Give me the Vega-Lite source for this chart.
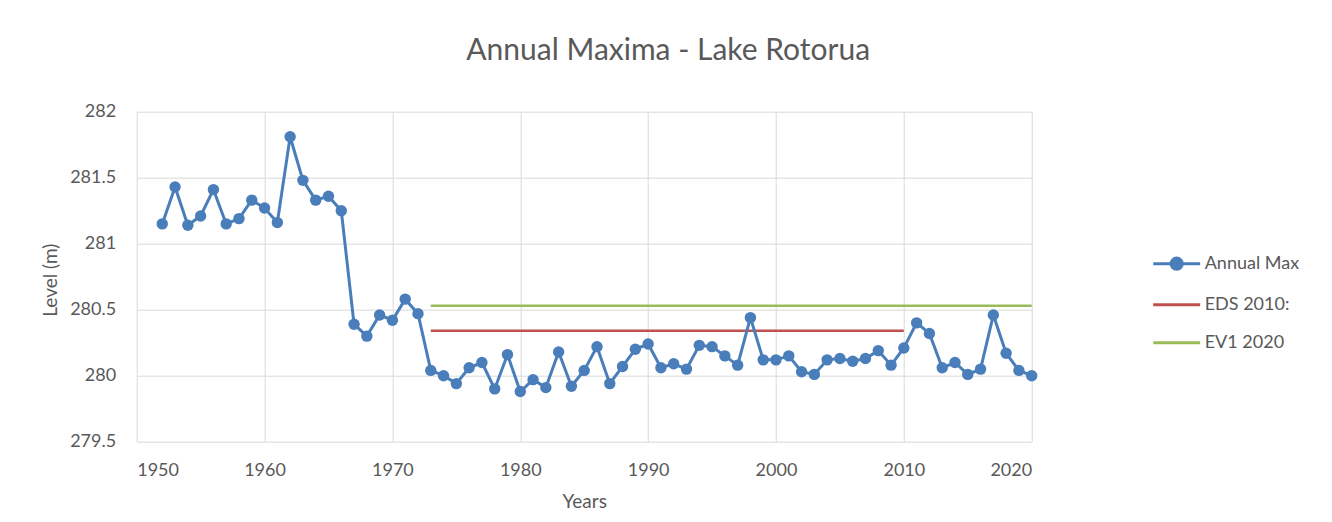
{
  "$schema": "https://vega.github.io/schema/vega-lite/v6.json",
  "width": 895,
  "height": 330,
  "autosize": {"type": "none"},
  "padding": {"left": 136.7, "top": 111.7, "right": 300.3, "bottom": 80.3},
  "background": "white",
  "config": {
    "font": "Lato",
    "view": {"stroke": null},
    "axis": {
      "gridColor": "#d9d9d9",
      "gridWidth": 1,
      "domain": false,
      "ticks": false,
      "labelColor": "#595959",
      "labelFontSize": 18,
      "labelFont": "Lato",
      "titleColor": "#595959",
      "titleFontSize": 19,
      "titleFont": "Lato",
      "titleFontWeight": "normal"
    }
  },
  "title": {
    "text": "Annual Maxima - Lake Rotorua",
    "fontSize": 30,
    "fontWeight": "normal",
    "font": "Lato",
    "color": "#595959",
    "anchor": "middle",
    "baseline": "alphabetic",
    "dx": 84,
    "offset": 13
  },
  "data": {
    "values": [
      {"year": 1952, "level": 281.15, "series": "Annual Max"},
      {"year": 1953, "level": 281.43, "series": "Annual Max"},
      {"year": 1954, "level": 281.14, "series": "Annual Max"},
      {"year": 1955, "level": 281.21, "series": "Annual Max"},
      {"year": 1956, "level": 281.41, "series": "Annual Max"},
      {"year": 1957, "level": 281.15, "series": "Annual Max"},
      {"year": 1958, "level": 281.19, "series": "Annual Max"},
      {"year": 1959, "level": 281.33, "series": "Annual Max"},
      {"year": 1960, "level": 281.27, "series": "Annual Max"},
      {"year": 1961, "level": 281.16, "series": "Annual Max"},
      {"year": 1962, "level": 281.81, "series": "Annual Max"},
      {"year": 1963, "level": 281.48, "series": "Annual Max"},
      {"year": 1964, "level": 281.33, "series": "Annual Max"},
      {"year": 1965, "level": 281.36, "series": "Annual Max"},
      {"year": 1966, "level": 281.25, "series": "Annual Max"},
      {"year": 1967, "level": 280.39, "series": "Annual Max"},
      {"year": 1968, "level": 280.30, "series": "Annual Max"},
      {"year": 1969, "level": 280.46, "series": "Annual Max"},
      {"year": 1970, "level": 280.42, "series": "Annual Max"},
      {"year": 1971, "level": 280.58, "series": "Annual Max"},
      {"year": 1972, "level": 280.47, "series": "Annual Max"},
      {"year": 1973, "level": 280.04, "series": "Annual Max"},
      {"year": 1974, "level": 280.00, "series": "Annual Max"},
      {"year": 1975, "level": 279.94, "series": "Annual Max"},
      {"year": 1976, "level": 280.06, "series": "Annual Max"},
      {"year": 1977, "level": 280.10, "series": "Annual Max"},
      {"year": 1978, "level": 279.90, "series": "Annual Max"},
      {"year": 1979, "level": 280.16, "series": "Annual Max"},
      {"year": 1980, "level": 279.88, "series": "Annual Max"},
      {"year": 1981, "level": 279.97, "series": "Annual Max"},
      {"year": 1982, "level": 279.91, "series": "Annual Max"},
      {"year": 1983, "level": 280.18, "series": "Annual Max"},
      {"year": 1984, "level": 279.92, "series": "Annual Max"},
      {"year": 1985, "level": 280.04, "series": "Annual Max"},
      {"year": 1986, "level": 280.22, "series": "Annual Max"},
      {"year": 1987, "level": 279.94, "series": "Annual Max"},
      {"year": 1988, "level": 280.07, "series": "Annual Max"},
      {"year": 1989, "level": 280.20, "series": "Annual Max"},
      {"year": 1990, "level": 280.24, "series": "Annual Max"},
      {"year": 1991, "level": 280.06, "series": "Annual Max"},
      {"year": 1992, "level": 280.09, "series": "Annual Max"},
      {"year": 1993, "level": 280.05, "series": "Annual Max"},
      {"year": 1994, "level": 280.23, "series": "Annual Max"},
      {"year": 1995, "level": 280.22, "series": "Annual Max"},
      {"year": 1996, "level": 280.15, "series": "Annual Max"},
      {"year": 1997, "level": 280.08, "series": "Annual Max"},
      {"year": 1998, "level": 280.44, "series": "Annual Max"},
      {"year": 1999, "level": 280.12, "series": "Annual Max"},
      {"year": 2000, "level": 280.12, "series": "Annual Max"},
      {"year": 2001, "level": 280.15, "series": "Annual Max"},
      {"year": 2002, "level": 280.03, "series": "Annual Max"},
      {"year": 2003, "level": 280.01, "series": "Annual Max"},
      {"year": 2004, "level": 280.12, "series": "Annual Max"},
      {"year": 2005, "level": 280.13, "series": "Annual Max"},
      {"year": 2006, "level": 280.11, "series": "Annual Max"},
      {"year": 2007, "level": 280.13, "series": "Annual Max"},
      {"year": 2008, "level": 280.19, "series": "Annual Max"},
      {"year": 2009, "level": 280.08, "series": "Annual Max"},
      {"year": 2010, "level": 280.21, "series": "Annual Max"},
      {"year": 2011, "level": 280.40, "series": "Annual Max"},
      {"year": 2012, "level": 280.32, "series": "Annual Max"},
      {"year": 2013, "level": 280.06, "series": "Annual Max"},
      {"year": 2014, "level": 280.10, "series": "Annual Max"},
      {"year": 2015, "level": 280.01, "series": "Annual Max"},
      {"year": 2016, "level": 280.05, "series": "Annual Max"},
      {"year": 2017, "level": 280.46, "series": "Annual Max"},
      {"year": 2018, "level": 280.17, "series": "Annual Max"},
      {"year": 2019, "level": 280.04, "series": "Annual Max"},
      {"year": 2020, "level": 280.00, "series": "Annual Max"},
      {"year": 1973, "level": 280.34, "series": "EDS 2010:"},
      {"year": 2010, "level": 280.34, "series": "EDS 2010:"},
      {"year": 1973, "level": 280.53, "series": "EV1 2020"},
      {"year": 2020, "level": 280.53, "series": "EV1 2020"}
    ]
  },
  "encoding": {
    "x": {
      "field": "year",
      "type": "quantitative",
      "scale": {"domain": [1950, 2020], "nice": false, "zero": false},
      "axis": {
        "values": [1950, 1960, 1970, 1980, 1990, 2000, 2010, 2020],
        "format": "d",
        "labelPadding": 20,
        "title": "Years",
        "titleY": 60,
        "titleBaseline": "middle"
      }
    },
    "y": {
      "field": "level",
      "type": "quantitative",
      "scale": {"domain": [279.5, 282], "nice": false, "zero": false},
      "axis": {
        "values": [279.5, 280, 280.5, 281, 281.5, 282],
        "format": "~f",
        "labelPadding": 21,
        "title": "Level (m)",
        "titleX": -86,
        "titleY": 168,
        "titleAlign": "center",
        "titleBaseline": "middle"
      }
    },
    "color": {
      "field": "series",
      "type": "nominal",
      "scale": {
        "domain": ["Annual Max", "EDS 2010:", "EV1 2020"],
        "range": ["#4a7ebb", "#c0504d", "#9bbb59"]
      },
      "legend": {
        "title": null,
        "orient": "none",
        "legendX": 1015,
        "legendY": 127,
        "labelFontSize": 18,
        "labelColor": "#595959",
        "labelFont": "Lato",
        "labelOffset": 3,
        "symbolSize": 2200,
        "symbolStrokeWidth": 3,
        "symbolType": "stroke",
        "rowPadding": 4,
        "encode": {
          "symbols": {
            "update": {
              "shape": {"signal": "datum.value === 'Annual Max' ? 'M-1,0L1,0M-0.24,0A0.24,0.24,0,1,1,0.24,0A0.24,0.24,0,1,1,-0.24,0' : 'stroke'"},
              "fill": {"signal": "datum.value === 'Annual Max' ? '#4a7ebb' : 'transparent'"},
              "opacity": {"value": 1}
            }
          }
        }
      }
    }
  },
  "layer": [
    {
      "transform": [{"filter": "datum.series !== 'Annual Max'"}],
      "mark": {"type": "line", "strokeWidth": 2.5}
    },
    {
      "transform": [{"filter": "datum.series === 'Annual Max'"}],
      "mark": {"type": "line", "strokeWidth": 3}
    },
    {
      "transform": [{"filter": "datum.series === 'Annual Max'"}],
      "mark": {"type": "point", "filled": true, "size": 130, "opacity": 1}
    }
  ]
}
